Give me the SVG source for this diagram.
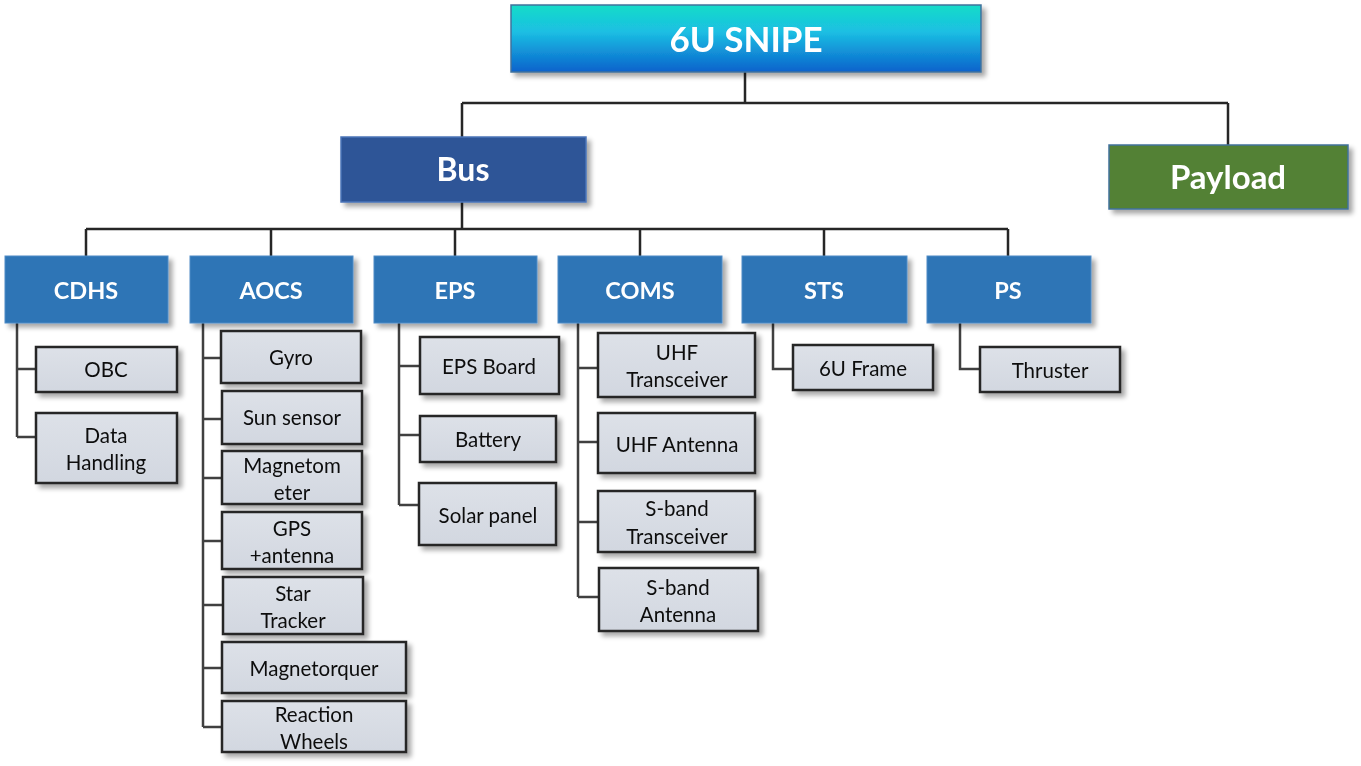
<svg xmlns="http://www.w3.org/2000/svg" width="1361" height="766" viewBox="0 0 1361 766">
<defs>
<linearGradient id="gRoot" x1="0" y1="0" x2="0" y2="1">
<stop offset="0" stop-color="#16dcc8"/>
<stop offset="0.4" stop-color="#1bbfe3"/>
<stop offset="1" stop-color="#0a62cc"/>
</linearGradient>
<linearGradient id="gLeaf" x1="0" y1="0" x2="0" y2="1">
<stop offset="0" stop-color="#dde1e8"/>
<stop offset="1" stop-color="#d2d7e0"/>
</linearGradient>
<filter id="sh" x="-10%" y="-20%" width="130%" height="150%">
<feGaussianBlur in="SourceAlpha" stdDeviation="2.5"/>
<feOffset dx="4" dy="4" result="b"/>
<feComponentTransfer><feFuncA type="linear" slope="0.35"/></feComponentTransfer>
<feMerge><feMergeNode/><feMergeNode in="SourceGraphic"/></feMerge>
</filter>
</defs>
<style>
.root{fill:url(#gRoot);stroke:#41719c;stroke-width:1.5}
.bus{fill:#2f5597;stroke:#4a74b8;stroke-width:1.5}
.pay{fill:#538135;stroke:#41719c;stroke-width:1.5}
.l2{fill:#2e75b6;stroke:#4f8cc6;stroke-width:1}
.leaf{fill:url(#gLeaf);stroke:#262626;stroke-width:2.5}
.hd{font-family:Lato,"Open Sans","Liberation Sans",sans-serif;font-weight:bold;fill:#ffffff;text-anchor:middle}
.lt{font-family:Lato,"Open Sans","Liberation Sans",sans-serif;font-size:20.5px;fill:#0d0d0d;text-anchor:middle}
.con{fill:none;stroke:#262626;stroke-width:2.5}
.con2{fill:none;stroke:#404040;stroke-width:2.5}
</style>
<rect width="1361" height="766" fill="#ffffff"/>
<g id="connectors">
<path class="con" d="M745 72V103M462 103H1228M462 103V137M1228 103V145"/>
<path class="con" d="M462 202V229M86 229H1008M86 229V256M271 229V256M455 229V256M640 229V256M824 229V256M1008 229V256"/>
<path class="con2" d="M17 323V437M17 369H36M17 437H36"/>
<path class="con2" d="M203 323V727M203 358H222M203 419H222M203 478H222M203 541H222M203 605H222M203 668H222M203 727H222"/>
<path class="con2" d="M399 323V505M399 366H420M399 435H420M399 505H420"/>
<path class="con2" d="M578 323V597M578 368H598M578 442H598M578 522H598M578 597H598"/>
<path class="con2" d="M773 323V369H793"/>
<path class="con2" d="M960 323V369H980"/>
</g>
<g id="n-root" filter="url(#sh)"><rect class="root" x="511" y="5" width="470" height="67"/><text class="hd" x="746" y="52" font-size="35">6U SNIPE</text></g>
<g id="n-bus" filter="url(#sh)"><rect class="bus" x="341" y="137" width="245" height="65"/><text class="hd" x="463" y="181" font-size="32">Bus</text></g>
<g id="n-payload" filter="url(#sh)"><rect class="pay" x="1109" y="145" width="239" height="64"/><text class="hd" x="1228" y="189" font-size="33">Payload</text></g>
<g id="n-cdhs" filter="url(#sh)"><rect class="l2" x="5" y="256" width="163" height="67"/><text class="hd" x="86" y="299" font-size="23.5">CDHS</text></g>
<g id="n-aocs" filter="url(#sh)"><rect class="l2" x="190" y="256" width="163" height="67"/><text class="hd" x="271" y="299" font-size="23.5">AOCS</text></g>
<g id="n-eps" filter="url(#sh)"><rect class="l2" x="374" y="256" width="163" height="67"/><text class="hd" x="455" y="299" font-size="23.5">EPS</text></g>
<g id="n-coms" filter="url(#sh)"><rect class="l2" x="558" y="256" width="164" height="67"/><text class="hd" x="640" y="299" font-size="23.5">COMS</text></g>
<g id="n-sts" filter="url(#sh)"><rect class="l2" x="742" y="256" width="165" height="67"/><text class="hd" x="824" y="299" font-size="23.5">STS</text></g>
<g id="n-ps" filter="url(#sh)"><rect class="l2" x="927" y="256" width="164" height="67"/><text class="hd" x="1008" y="299" font-size="23.5">PS</text></g>
<g id="n-obc" filter="url(#sh)"><rect class="leaf" x="36" y="347" width="141" height="45"/><text class="lt" x="106" y="377">OBC</text></g>
<g id="n-datahandling" filter="url(#sh)"><rect class="leaf" x="36" y="413" width="141" height="70"/><text class="lt" x="106" y="443">Data</text><text class="lt" x="106" y="470">Handling</text></g>
<g id="n-gyro" filter="url(#sh)"><rect class="leaf" x="221" y="331" width="140" height="52"/><text class="lt" x="291" y="365">Gyro</text></g>
<g id="n-sunsensor" filter="url(#sh)"><rect class="leaf" x="222" y="391" width="140" height="53"/><text class="lt" x="292" y="425">Sun sensor</text></g>
<g id="n-magnetometer" filter="url(#sh)"><rect class="leaf" x="222" y="451" width="140" height="53"/><text class="lt" x="292" y="473">Magnetom</text><text class="lt" x="292" y="500">eter</text></g>
<g id="n-gps" filter="url(#sh)"><rect class="leaf" x="222" y="512" width="140" height="57"/><text class="lt" x="292" y="536">GPS</text><text class="lt" x="292" y="563">+antenna</text></g>
<g id="n-startracker" filter="url(#sh)"><rect class="leaf" x="223" y="577" width="140" height="57"/><text class="lt" x="293" y="601">Star</text><text class="lt" x="293" y="628">Tracker</text></g>
<g id="n-magnetorquer" filter="url(#sh)"><rect class="leaf" x="222" y="642" width="184" height="51"/><text class="lt" x="314" y="676">Magnetorquer</text></g>
<g id="n-reactionwheels" filter="url(#sh)"><rect class="leaf" x="222" y="701" width="184" height="51"/><text class="lt" x="314" y="722">Reaction</text><text class="lt" x="314" y="749">Wheels</text></g>
<g id="n-epsboard" filter="url(#sh)"><rect class="leaf" x="420" y="337" width="139" height="57"/><text class="lt" x="489" y="374">EPS Board</text></g>
<g id="n-battery" filter="url(#sh)"><rect class="leaf" x="420" y="416" width="136" height="46"/><text class="lt" x="488" y="447">Battery</text></g>
<g id="n-solarpanel" filter="url(#sh)"><rect class="leaf" x="419" y="483" width="137" height="62"/><text class="lt" x="488" y="523">Solar panel</text></g>
<g id="n-uhftrans" filter="url(#sh)"><rect class="leaf" x="598" y="333" width="157" height="64"/><text class="lt" x="677" y="360">UHF</text><text class="lt" x="677" y="387">Transceiver</text></g>
<g id="n-uhfant" filter="url(#sh)"><rect class="leaf" x="598" y="413" width="157" height="60"/><text class="lt" x="677" y="452">UHF Antenna</text></g>
<g id="n-sbandtrans" filter="url(#sh)"><rect class="leaf" x="598" y="491" width="157" height="61"/><text class="lt" x="677" y="516">S-band</text><text class="lt" x="677" y="544">Transceiver</text></g>
<g id="n-sbandant" filter="url(#sh)"><rect class="leaf" x="599" y="568" width="159" height="63"/><text class="lt" x="678" y="595">S-band</text><text class="lt" x="678" y="622">Antenna</text></g>
<g id="n-6uframe" filter="url(#sh)"><rect class="leaf" x="793" y="345" width="140" height="45"/><text class="lt" x="863" y="376">6U Frame</text></g>
<g id="n-thruster" filter="url(#sh)"><rect class="leaf" x="980" y="347" width="140" height="45"/><text class="lt" x="1050" y="378">Thruster</text></g>
</svg>
